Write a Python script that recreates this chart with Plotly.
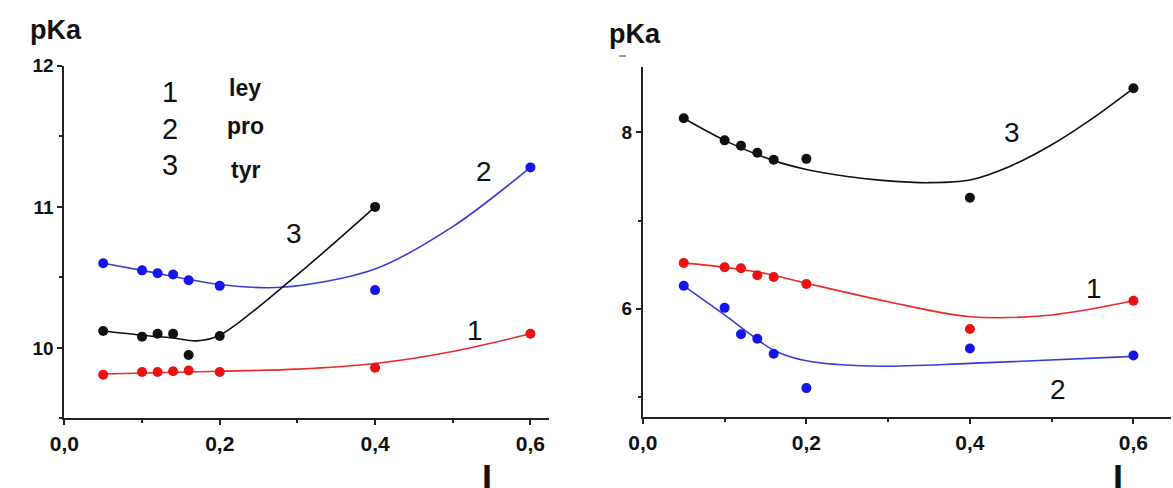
import plotly.graph_objects as go

W, H = 1173, 488

# ---------------- data ----------------
x_pts = [0.05, 0.1, 0.12, 0.14, 0.16, 0.2, 0.4, 0.6]

# left panel measured points
ley_L = [9.81, 9.83, 9.83, 9.835, 9.84, 9.83, 9.86, 10.10]
pro_L = [10.60, 10.55, 10.53, 10.52, 10.48, 10.44, 10.41, 11.28]
tyr_L_x = [0.05, 0.1, 0.12, 0.14, 0.16, 0.2, 0.4]
tyr_L = [10.12, 10.08, 10.10, 10.10, 9.95, 10.085, 11.0]

# left panel fitted curves
ley_fit_L_x = [0.05, 0.2, 0.3, 0.4, 0.5, 0.6]
ley_fit_L = [9.815, 9.835, 9.85, 9.89, 9.975, 10.10]
pro_fit_L_x = [0.05, 0.1, 0.2, 0.28, 0.4, 0.5, 0.6]
pro_fit_L = [10.60, 10.55, 10.45, 10.43, 10.56, 10.86, 11.28]
tyr_fit_L_x = [0.05, 0.1, 0.14, 0.17, 0.2, 0.3, 0.4]
tyr_fit_L = [10.12, 10.09, 10.07, 10.05, 10.09, 10.52, 11.0]

# right panel measured points
tyr_R = [8.16, 7.91, 7.85, 7.77, 7.69, 7.70, 7.26, 8.50]
ley_R = [6.52, 6.47, 6.46, 6.38, 6.36, 6.28, 5.77, 6.09]
pro_R = [6.26, 6.01, 5.71, 5.66, 5.49, 5.10, 5.55, 5.47]

# right panel fitted curves
tyr_fit_R_x = [0.05, 0.1, 0.16, 0.2, 0.25, 0.3, 0.35, 0.4, 0.45, 0.5, 0.55, 0.6]
tyr_fit_R = [8.16, 7.91, 7.68, 7.58, 7.50, 7.45, 7.43, 7.46, 7.62, 7.86, 8.16, 8.50]
ley_fit_R_x = [0.05, 0.1, 0.15, 0.2, 0.3, 0.4, 0.5, 0.6]
ley_fit_R = [6.52, 6.47, 6.40, 6.29, 6.08, 5.91, 5.93, 6.09]
pro_fit_R_x = [0.05, 0.1, 0.13, 0.16, 0.2, 0.28, 0.4, 0.6]
pro_fit_R = [6.26, 5.93, 5.72, 5.53, 5.41, 5.35, 5.38, 5.46]

x_tickvals = [0.0, 0.2, 0.4, 0.6]
x_ticktext = ["0,0", "0,2", "0,4", "0,6"]
yL_tickvals = [10, 11, 12]
yR_tickvals = [6, 8]

legend_nums = ["1", "2", "3"]
legend_names = ["ley", "pro", "tyr"]

RED_P, RED_L = "#ee1111", "#e82a2a"
BLUE_P, BLUE_L = "#1414ee", "#3c3cd0"
BLK = "#111111"

fig = go.Figure()

def add_pts(x, y, color, xa, ya):
    fig.add_trace(go.Scatter(x=x, y=y, mode="markers", xaxis=xa, yaxis=ya,
                             marker=dict(size=10, color=color), showlegend=False))

def add_line(x, y, color, xa, ya):
    fig.add_trace(go.Scatter(x=x, y=y, mode="lines", xaxis=xa, yaxis=ya,
                             line=dict(color=color, width=1.6, shape="spline", smoothing=0.9),
                             showlegend=False))

# left
add_line(ley_fit_L_x, ley_fit_L, RED_L, "x", "y")
add_line(pro_fit_L_x, pro_fit_L, BLUE_L, "x", "y")
add_line(tyr_fit_L_x, tyr_fit_L, BLK, "x", "y")
add_pts(x_pts, ley_L, RED_P, "x", "y")
add_pts(x_pts, pro_L, BLUE_P, "x", "y")
add_pts(tyr_L_x, tyr_L, BLK, "x", "y")
# right
add_line(tyr_fit_R_x, tyr_fit_R, BLK, "x2", "y2")
add_line(ley_fit_R_x, ley_fit_R, RED_L, "x2", "y2")
add_line(pro_fit_R_x, pro_fit_R, BLUE_L, "x2", "y2")
add_pts(x_pts, tyr_R, BLK, "x2", "y2")
add_pts(x_pts, ley_R, RED_P, "x2", "y2")
add_pts(x_pts, pro_R, BLUE_P, "x2", "y2")

FONT = "Liberation Sans, Arial, sans-serif"
axis_common = dict(showgrid=False, zeroline=False, showline=True, linecolor="#222",
                   linewidth=2, ticks="outside", ticklen=5, tickwidth=1.5, tickcolor="#222")
xfont = dict(family=FONT, size=21, color="#111")
yfont = dict(family=FONT, size=19, color="#111")

def px(x):
    return x / W

def py(y):
    return 1 - y / H

fig.update_layout(
    width=W, height=H, margin=dict(l=0, r=0, t=0, b=0),
    paper_bgcolor="white", plot_bgcolor="white",
    xaxis=dict(domain=[px(50), px(541)], range=[0, 0.624], anchor="y",
               tickvals=x_tickvals, ticktext=["<b>%s</b>" % t for t in x_ticktext],
               tickfont=xfont,
               minor=dict(dtick=0.1, tick0=0, ticks="outside", ticklen=3, tickcolor="#222"),
               **axis_common),
    yaxis=dict(domain=[py(417), py(57)], range=[9.5, 12], anchor="x",
               tickvals=yL_tickvals, ticktext=["<b>%d</b>" % v for v in yL_tickvals],
               tickfont=yfont,
               minor=dict(dtick=0.5, tick0=0, ticks="outside", ticklen=3, tickcolor="#222"),
               **axis_common),
    xaxis2=dict(domain=[px(636), px(1171)], range=[0, 0.646], anchor="y2",
                tickvals=x_tickvals, ticktext=["<b>%s</b>" % t for t in x_ticktext],
                tickfont=xfont,
                minor=dict(dtick=0.1, tick0=0, ticks="outside", ticklen=3, tickcolor="#222"),
                **axis_common),
    yaxis2=dict(domain=[py(416), py(58)], range=[4.767, 8.744], anchor="x2",
                tickvals=yR_tickvals, ticktext=["<b>%d</b>" % v for v in yR_tickvals],
                tickfont=yfont,
                minor=dict(dtick=1, tick0=0, ticks="outside", ticklen=3, tickcolor="#222"),
                **axis_common),
)

def txt(x, y, s, size, bold=False, xanchor="center", yanchor="middle"):
    fig.add_annotation(x=px(x), y=py(y), xref="paper", yref="paper", showarrow=False,
                       text=("<b>%s</b>" % s) if bold else s, xanchor=xanchor, yanchor=yanchor,
                       font=dict(family=FONT, size=size, color="#111"))

# axis titles
txt(42, 20, "pKa", 27, bold=True)
txt(628, 25, "pKa", 27, bold=True)
txt(478, 455, "I", 36, bold=True, yanchor="top")
txt(1117, 455, "I", 36, bold=True, yanchor="top")

# small stray dash under right pKa
fig.add_shape(type="line", xref="paper", yref="paper", x0=px(612), x1=px(619),
              y0=py(47), y1=py(47), line=dict(color="#777", width=1.5))

# legend
for i, (n, nm) in enumerate(zip(legend_nums, legend_names)):
    txt(157, [84, 121, 158][i], n, 29)
    txt(233, [80, 118, 163][i], nm, 23, bold=True)

# curve labels
txt(283, 228, "3", 28)
txt(475, 165, "2", 28)
txt(466, 327, "1", 28)
txt(1010, 125, "3", 28)
txt(1093, 284, "1", 28)
txt(1057, 387, "2", 28)

fig.write_html("out.html", config={"displayModeBar": False},
               post_script="document.body.style.margin='0';")
